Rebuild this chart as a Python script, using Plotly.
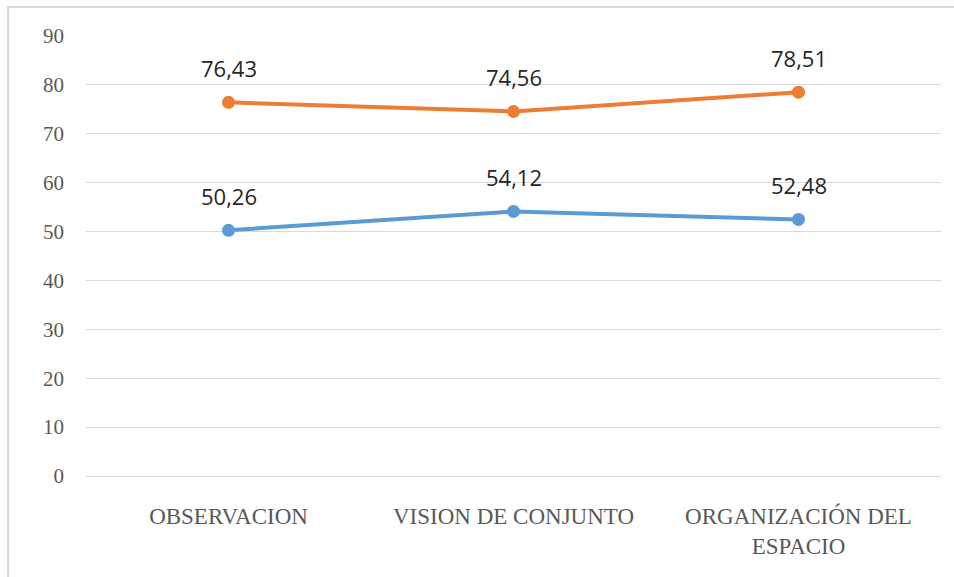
import plotly.graph_objects as go

# data
categorias = ["OBSERVACION", "VISION DE CONJUNTO", "ORGANIZACIÓN DEL<br>ESPACIO"]
serie_naranja = [76.43, 74.56, 78.51]
serie_azul = [50.26, 54.12, 52.48]
y_ticks = [0, 10, 20, 30, 40, 50, 60, 70, 80, 90]

naranja = "#ED7D31"
azul = "#5B9BD5"


def etiqueta(v):
    return f"{v:.2f}".replace(".", ",")


fig = go.Figure()

for valores, color in [(serie_azul, azul), (serie_naranja, naranja)]:
    fig.add_trace(
        go.Scatter(
            x=categorias,
            y=valores,
            mode="lines+markers",
            line=dict(color=color, width=4),
            marker=dict(color=color, size=13),
            hoverinfo="skip",
        )
    )
    for c, v in zip(categorias, valores):
        fig.add_annotation(
            x=c,
            y=v,
            text=etiqueta(v),
            showarrow=False,
            yanchor="bottom",
            yshift=17,
            font=dict(family="Open Sans", size=22, color="#262626"),
        )

# light frame round the chart
fig.add_shape(
    type="rect",
    xref="paper",
    yref="paper",
    x0=-0.0912,
    x1=1.2,
    y0=-0.3,
    y1=1.066,
    line=dict(color="#d9d9d9", width=2),
    layer="below",
)

fig.update_layout(
    width=954,
    height=577,
    margin=dict(l=86, r=13, t=36, b=101),
    paper_bgcolor="white",
    plot_bgcolor="white",
    showlegend=False,
    xaxis=dict(
        type="category",
        range=[-0.5, 2.5],
        showgrid=False,
        showline=False,
        zeroline=False,
        ticklabelstandoff=24,
        tickfont=dict(family="Liberation Serif", size=23, color="#595959"),
    ),
    yaxis=dict(
        range=[0, 90],
        tickvals=y_ticks,
        showgrid=True,
        gridcolor="#d9d9d9",
        gridwidth=1,
        zeroline=True,
        zerolinecolor="#d9d9d9",
        zerolinewidth=1,
        showline=False,
        ticklabelstandoff=21,
        tickfont=dict(family="Liberation Serif", size=21, color="#595959"),
    ),
)

fig.write_html(
    "out.html",
    config={"displayModeBar": False},
    post_script="document.body.style.margin='0';",
)
